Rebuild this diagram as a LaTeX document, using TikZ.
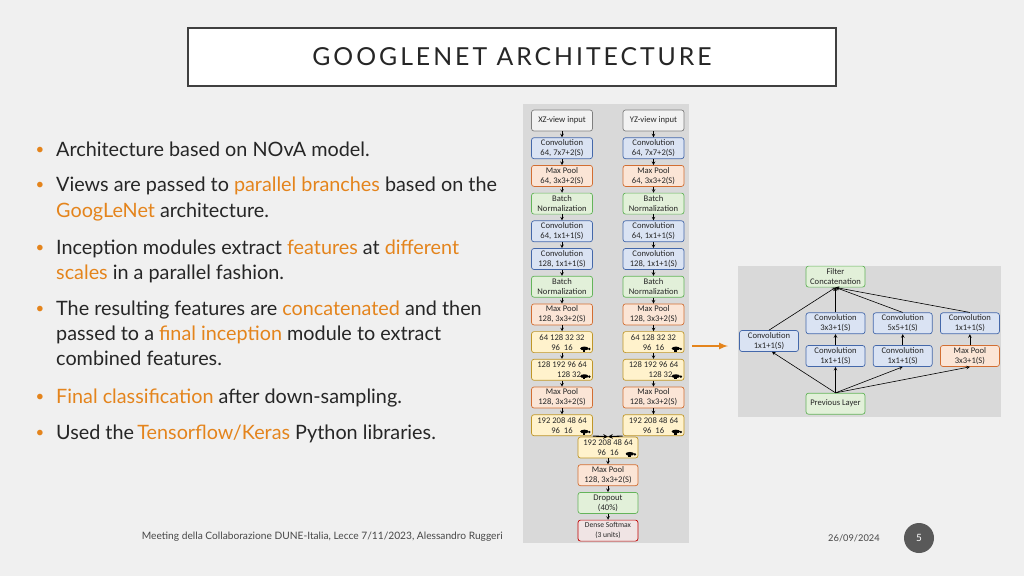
\documentclass[tikz,border=0pt]{standalone}
\usepackage{fontspec}
\setmainfont{Lato}
\newfontfamily\diafont{Carlito}
\newfontfamily\titlefont[LetterSpace=12]{Lato}
\usetikzlibrary{arrows,positioning}

\definecolor{pagebg}{RGB}{240,240,240}
\definecolor{txt}{RGB}{38,38,38}
\definecolor{accent}{RGB}{228,132,28}
\definecolor{panelgray}{RGB}{217,217,217}
\definecolor{titledraw}{RGB}{64,64,64}
\definecolor{numgray}{RGB}{89,89,89}
\definecolor{convfill}{RGB}{218,227,243}
\definecolor{convdraw}{RGB}{68,104,170}
\definecolor{poolfill}{RGB}{251,229,214}
\definecolor{pooldraw}{RGB}{210,110,50}
\definecolor{bnfill}{RGB}{226,240,217}
\definecolor{bndraw}{RGB}{100,180,90}
\definecolor{incfill}{RGB}{255,242,204}
\definecolor{incdraw}{RGB}{191,150,40}
\definecolor{infill}{RGB}{242,242,242}
\definecolor{indraw}{RGB}{127,127,127}
\definecolor{densefill}{RGB}{240,228,228}
\definecolor{densedraw}{RGB}{192,0,0}

\newcommand{\orng}[1]{\textcolor{accent}{#1}}
% little inception glyph in the corner of a yellow box
\newcommand{\incicon}[1]{%
  \fill[black] ([xshift=-8.5pt,yshift=4.5pt]#1.south east) ellipse (4.2pt and 1.9pt);
  \fill[black] ([xshift=-10pt,yshift=5.5pt]#1.south east) rectangle ++(2.4pt,-4.2pt);
  \fill[black] ([xshift=-3.5pt,yshift=4pt]#1.south east) circle (1.3pt);}

\begin{document}
\begin{tikzpicture}[x=1pt, y=-1pt,
  layer/.style={draw, rounded corners=2.5pt, align=center, line width=0.7pt,
    font=\diafont\fontsize{8.6}{10}\selectfont, text=black!85,
    minimum width=61pt, minimum height=21pt, inner sep=0.3pt},
  inbox/.style={layer, fill=infill, draw=indraw},
  conv/.style={layer, fill=convfill, draw=convdraw},
  pool/.style={layer, fill=poolfill, draw=pooldraw},
  bn/.style={layer, fill=bnfill, draw=bndraw},
  inc/.style={layer, fill=incfill, draw=incdraw},
  dense/.style={layer, fill=densefill, draw=densedraw},
  small/.style={minimum width=59pt},
  flow/.style={->, >=stealth, line width=0.6pt, black},
  bl/.style={anchor=base west, inner sep=0, text=txt,
    font=\fontsize{19.8}{23}\selectfont},
  dot/.style={anchor=base, inner sep=0, text=accent, font=\fontsize{15}{17}\selectfont},
  node distance=6pt
]
  \useasboundingbox[fill=pagebg] (0,0) rectangle (1024,576);

  % title
  \node[draw=titledraw, line width=2.5pt, fill=white, minimum width=648pt,
    minimum height=58pt, text=txt, font=\titlefont\fontsize{24.8}{28}\selectfont]
    (title) at (512,57) {GOOGLENET ARCHITECTURE};

  % bullets
  \node[dot] (d1) at (40,154) {•};
  \node[bl] (l1) at (56,156) {Architecture based on NOvA model.};
  \node[dot] (d2) at (40,189.7) {•};
  \node[bl] (l2) at (56,191.7) {Views are passed to \orng{parallel branches} based on the};
  \node[bl] (l3) at (56,217.3) {\orng{GoogLeNet} architecture.};
  \node[dot] (d3) at (40,252) {•};
  \node[bl] (l4) at (56,254) {Inception modules extract \orng{features} at \orng{different}};
  \node[bl] (l5) at (56,279) {\orng{scales} in a parallel fashion.};
  \node[dot] (d4) at (40,313) {•};
  \node[bl] (l6) at (56,315) {The resulting features are \orng{concatenated} and then};
  \node[bl] (l7) at (56,340.7) {passed to a \orng{final inception} module to extract};
  \node[bl] (l8) at (56,365.7) {combined features.};
  \node[dot] (d5) at (40,401.3) {•};
  \node[bl] (l9) at (56,403.3) {\orng{Final classification} after down-sampling.};
  \node[dot] (d6) at (40,437.3) {•};
  \node[bl] (l10) at (56,439.3) {Used the\,\orng{Tensorflow/Keras} Python libraries.};

  % network panel
  \fill[panelgray] (523,104) rectangle (689,543);

  \node[inbox] (xz) at (562,120.5) {XZ-view input};
  \node[conv, below=of xz] (xc1) {Convolution\\64, 7x7+2(S)};
  \node[pool, below=of xc1] (xp1) {Max Pool\\64, 3x3+2(S)};
  \node[bn, below=of xp1] (xb1) {Batch\\Normalization};
  \node[conv, below=of xb1] (xc2) {Convolution\\64, 1x1+1(S)};
  \node[conv, below=of xc2] (xc3) {Convolution\\128, 1x1+1(S)};
  \node[bn, below=of xc3] (xb2) {Batch\\Normalization};
  \node[pool, below=of xb2] (xp2) {Max Pool\\128, 3x3+2(S)};
  \node[inc, below=of xp2] (xi1) {64 128 32 32\\96~~16};
  \node[inc, below=of xi1] (xi2) {128 192 96 64\\\hspace*{14pt}128 32};
  \node[pool, below=of xi2] (xp3) {Max Pool\\128, 3x3+2(S)};
  \node[inc, below=of xp3] (xi3) {192 208 48 64\\96~~16};

  \node[inbox] (yz) at (653.5,120.5) {YZ-view input};
  \node[conv, below=of yz] (yc1) {Convolution\\64, 7x7+2(S)};
  \node[pool, below=of yc1] (yp1) {Max Pool\\64, 3x3+2(S)};
  \node[bn, below=of yp1] (yb1) {Batch\\Normalization};
  \node[conv, below=of yb1] (yc2) {Convolution\\64, 1x1+1(S)};
  \node[conv, below=of yc2] (yc3) {Convolution\\128, 1x1+1(S)};
  \node[bn, below=of yc3] (yb2) {Batch\\Normalization};
  \node[pool, below=of yb2] (yp2) {Max Pool\\128, 3x3+2(S)};
  \node[inc, below=of yp2] (yi1) {64 128 32 32\\96~~16};
  \node[inc, below=of yi1] (yi2) {128 192 96 64\\\hspace*{14pt}128 32};
  \node[pool, below=of yi2] (yp3) {Max Pool\\128, 3x3+2(S)};
  \node[inc, below=of yp3] (yi3) {192 208 48 64\\96~~16};

  \node[inc, minimum width=60pt] (mi) at (608,447.5) {192 208 48 64\\96~~16};
  \node[pool, minimum width=60pt, below=of mi] (mp) {Max Pool\\128, 3x3+2(S)};
  \node[bn, minimum width=60pt, below=of mp] (drop) {Dropout\\(40\%)};
  \node[dense, minimum width=60pt, below=of drop,
    font=\diafont\fontsize{7.6}{10}\selectfont] (soft) {Dense Softmax\\(3 units)};

  \incicon{xi1} \incicon{xi2} \incicon{xi3}
  \incicon{yi1} \incicon{yi2} \incicon{yi3}
  \incicon{mi}

  \draw[flow] (xz) -- (xc1);
  \draw[flow] (xc1) -- (xp1);
  \draw[flow] (xp1) -- (xb1);
  \draw[flow] (xb1) -- (xc2);
  \draw[flow] (xc2) -- (xc3);
  \draw[flow] (xc3) -- (xb2);
  \draw[flow] (xb2) -- (xp2);
  \draw[flow] (xp2) -- (xi1);
  \draw[flow] (xi1) -- (xi2);
  \draw[flow] (xi2) -- (xp3);
  \draw[flow] (xp3) -- (xi3);
  \draw[flow] (yz) -- (yc1);
  \draw[flow] (yc1) -- (yp1);
  \draw[flow] (yp1) -- (yb1);
  \draw[flow] (yb1) -- (yc2);
  \draw[flow] (yc2) -- (yc3);
  \draw[flow] (yc3) -- (yb2);
  \draw[flow] (yb2) -- (yp2);
  \draw[flow] (yp2) -- (yi1);
  \draw[flow] (yi1) -- (yi2);
  \draw[flow] (yi2) -- (yp3);
  \draw[flow] (yp3) -- (yi3);
  \draw[flow, line width=1.1pt] (xi3.south east) -- (mi.north);
  \draw[flow, line width=1.1pt] (yi3.south west) -- (mi.north);
  \draw[flow] (mi) -- (mp);
  \draw[flow] (mp) -- (drop);
  \draw[flow] (drop) -- (soft);

  % link to the inception module
  \coordinate (ln1) at (692,346);
  \coordinate (ln2) at (728,346);
  \draw[-latex, accent, line width=2pt] (ln1) -- (ln2);

  % inception module panel
  \fill[panelgray] (738,266) rectangle (1001,417);

  \node[bn, small] (prev) at (835.5,403.7) {Previous Layer};
  \node[conv, small, above=26pt of prev] (b2a) {Convolution\\1x1+1(S)};
  \node[conv, small, above=11pt of b2a] (b2b) {Convolution\\3x3+1(S)};
  \node[bn, small, above=25pt of b2b] (concat) {Filter\\Concatenation};
  \node[conv, small, right=7.5pt of b2a] (b3a) {Convolution\\1x1+1(S)};
  \node[conv, small, above=11pt of b3a] (b3b) {Convolution\\5x5+1(S)};
  \node[pool, small, right=7.5pt of b3a] (b4a) {Max Pool\\3x3+1(S)};
  \node[conv, small, above=11pt of b4a] (b4b) {Convolution\\1x1+1(S)};
  \node[conv, small] (b1) at (769,341) {Convolution\\1x1+1(S)};

  \draw[flow] (prev.north) -- ([xshift=3pt]b1.south);
  \draw[flow] (prev.north) -- (b2a.south);
  \draw[flow] (prev.north) -- (b3a.south);
  \draw[flow] (prev.north) -- (b4a.south);
  \draw[flow] (b2a) -- (b2b);
  \draw[flow] (b3a) -- (b3b);
  \draw[flow] (b4a) -- (b4b);
  \draw[flow] (b1.north) -- (concat.south);
  \draw[flow] (b2b.north) -- (concat.south);
  \draw[flow] (b3b.north) -- (concat.south);
  \draw[flow] (b4b.north) -- (concat.south);

  % footer
  \node[anchor=west, inner sep=0, text=txt!85, font=\fontsize{10.2}{12}\selectfont]
    (foot) at (141.7,537) {Meeting della Collaborazione DUNE-Italia, Lecce 7/11/2023, Alessandro Ruggeri};
  \node[anchor=west, inner sep=0, text=txt!85, font=\fontsize{9.3}{11}\selectfont]
    (date) at (828,538) {26/09/2024};
  \node[circle, fill=numgray, minimum size=30pt, inner sep=0, text=white,
    font=\fontsize{10}{12}\selectfont] (pnum) at (919,538) {5};
\end{tikzpicture}
\end{document}
